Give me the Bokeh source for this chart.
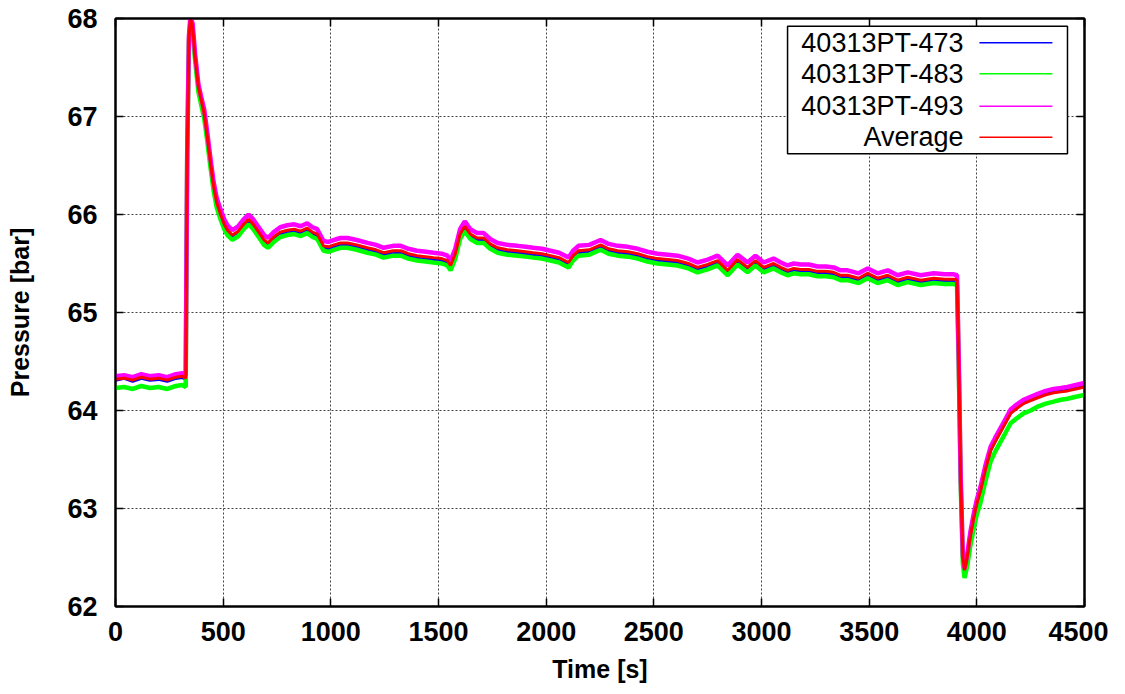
from bokeh.plotting import figure
from bokeh.models import Range1d, LinearAxis, SingleIntervalTicker, Label, BoxAnnotation, CustomJSTickFormatter
from bokeh.embed import file_html
from bokeh.resources import INLINE

# ---------------- data ----------------
time_s = [0, 40, 80, 120, 160, 200, 240, 280, 310, 326,
          333, 341, 348, 358, 370, 385, 400, 412, 426, 440,
          455, 470, 488, 505, 520, 543, 570, 595, 618, 640,
          665, 690, 708, 735, 765, 798, 830, 860, 890, 915,
          937, 966, 990, 1015, 1045, 1077, 1120, 1170, 1210, 1245,
          1290, 1325, 1360, 1400, 1440, 1477, 1515, 1541, 1556, 1578,
          1600, 1622, 1648, 1680, 1710, 1740, 1775, 1820, 1867, 1905,
          1940, 1980, 2020, 2060, 2104, 2125, 2150, 2200, 2253, 2290,
          2332, 2380, 2425, 2470, 2517, 2565, 2610, 2660, 2703, 2750,
          2796, 2843, 2889, 2935, 2972, 3010, 3056, 3090, 3121, 3150,
          3181, 3220, 3260, 3300, 3335, 3367, 3400, 3451, 3493, 3539,
          3586, 3632, 3679, 3739, 3800, 3850, 3893, 3908, 3916, 3925,
          3935, 3943, 3955, 3970, 3986, 4000, 4017, 4040, 4064, 4085,
          4110, 4135, 4157, 4185, 4217, 4250, 4283, 4320, 4357, 4390,
          4421, 4460, 4500]

pt_473 = [64.31, 64.33, 64.30, 64.33, 64.31, 64.32, 64.30, 64.33, 64.34, 64.32,
          66.60, 67.79, 67.99, 67.91, 67.59, 67.29, 67.14, 67.02, 66.79, 66.54,
          66.29, 66.11, 65.99, 65.89, 65.82, 65.77, 65.81, 65.88, 65.93, 65.88,
          65.80, 65.72, 65.69, 65.75, 65.80, 65.82, 65.83, 65.81, 65.84, 65.80,
          65.78, 65.66, 65.65, 65.67, 65.69, 65.69, 65.67, 65.64, 65.62, 65.59,
          65.61, 65.61, 65.58, 65.56, 65.55, 65.54, 65.53, 65.51, 65.46, 65.58,
          65.78, 65.86, 65.78, 65.74, 65.74, 65.68, 65.64, 65.62, 65.61, 65.60,
          65.59, 65.58, 65.56, 65.54, 65.49, 65.56, 65.61, 65.62, 65.67, 65.63,
          65.61, 65.60, 65.58, 65.55, 65.53, 65.52, 65.51, 65.48, 65.44, 65.47,
          65.51, 65.41, 65.52, 65.44, 65.51, 65.44, 65.48, 65.44, 65.41, 65.43,
          65.42, 65.42, 65.40, 65.40, 65.39, 65.36, 65.36, 65.33, 65.38, 65.33,
          65.36, 65.31, 65.34, 65.31, 65.33, 65.32, 65.32, 65.31, 64.49, 63.29,
          62.48, 62.35, 62.49, 62.71, 62.90, 63.04, 63.18, 63.40, 63.60, 63.69,
          63.79, 63.89, 63.98, 64.03, 64.08, 64.11, 64.14, 64.17, 64.19, 64.20,
          64.21, 64.23, 64.25]

pt_483 = [64.23, 64.24, 64.22, 64.25, 64.23, 64.24, 64.22, 64.25, 64.26, 64.24,
          66.58, 67.77, 67.97, 67.88, 67.56, 67.25, 67.10, 66.98, 66.75, 66.50,
          66.25, 66.07, 65.95, 65.85, 65.79, 65.74, 65.78, 65.85, 65.90, 65.85,
          65.77, 65.69, 65.66, 65.72, 65.77, 65.79, 65.80, 65.78, 65.81, 65.77,
          65.75, 65.63, 65.62, 65.64, 65.66, 65.66, 65.64, 65.61, 65.59, 65.56,
          65.58, 65.58, 65.55, 65.53, 65.52, 65.51, 65.50, 65.48, 65.43, 65.55,
          65.75, 65.83, 65.75, 65.71, 65.71, 65.65, 65.61, 65.59, 65.58, 65.57,
          65.56, 65.55, 65.53, 65.51, 65.46, 65.53, 65.58, 65.59, 65.64, 65.60,
          65.58, 65.57, 65.55, 65.52, 65.50, 65.49, 65.48, 65.45, 65.41, 65.44,
          65.48, 65.38, 65.49, 65.41, 65.48, 65.41, 65.45, 65.41, 65.38, 65.40,
          65.39, 65.39, 65.37, 65.37, 65.36, 65.33, 65.33, 65.30, 65.35, 65.30,
          65.33, 65.28, 65.31, 65.28, 65.30, 65.29, 65.29, 65.28, 64.46, 63.26,
          62.44, 62.29, 62.41, 62.62, 62.80, 62.94, 63.06, 63.28, 63.48, 63.58,
          63.68, 63.78, 63.87, 63.92, 63.97, 64.00, 64.04, 64.07, 64.09, 64.11,
          64.12, 64.14, 64.16]

pt_493 = [64.35, 64.36, 64.34, 64.37, 64.35, 64.36, 64.34, 64.37, 64.38, 64.36,
          66.62, 67.82, 68.02, 67.95, 67.63, 67.33, 67.18, 67.07, 66.84, 66.59,
          66.34, 66.17, 66.05, 65.95, 65.89, 65.84, 65.88, 65.95, 66.00, 65.95,
          65.87, 65.79, 65.76, 65.82, 65.87, 65.89, 65.90, 65.88, 65.91, 65.87,
          65.85, 65.73, 65.72, 65.74, 65.76, 65.76, 65.74, 65.71, 65.69, 65.66,
          65.68, 65.68, 65.65, 65.63, 65.62, 65.61, 65.60, 65.58, 65.53, 65.65,
          65.85, 65.93, 65.85, 65.81, 65.81, 65.75, 65.71, 65.69, 65.68, 65.67,
          65.66, 65.65, 65.63, 65.61, 65.56, 65.63, 65.68, 65.69, 65.74, 65.70,
          65.68, 65.67, 65.65, 65.62, 65.60, 65.59, 65.58, 65.55, 65.51, 65.54,
          65.58, 65.48, 65.59, 65.51, 65.58, 65.51, 65.55, 65.51, 65.48, 65.50,
          65.49, 65.49, 65.47, 65.47, 65.46, 65.43, 65.43, 65.40, 65.45, 65.40,
          65.43, 65.38, 65.41, 65.38, 65.40, 65.39, 65.39, 65.38, 64.52, 63.32,
          62.52, 62.39, 62.53, 62.76, 62.95, 63.09, 63.22, 63.44, 63.63, 63.72,
          63.82, 63.92, 64.01, 64.06, 64.11, 64.14, 64.17, 64.20, 64.22, 64.23,
          64.24, 64.26, 64.28]

average = [64.32, 64.33, 64.31, 64.34, 64.32, 64.33, 64.31, 64.34, 64.35, 64.33,
           66.60, 67.80, 68.00, 67.92, 67.60, 67.30, 67.15, 67.03, 66.80, 66.55,
           66.30, 66.12, 66.00, 65.90, 65.84, 65.79, 65.83, 65.90, 65.95, 65.90,
           65.82, 65.74, 65.71, 65.77, 65.82, 65.84, 65.85, 65.83, 65.86, 65.82,
           65.80, 65.68, 65.67, 65.69, 65.71, 65.71, 65.69, 65.66, 65.64, 65.61,
           65.63, 65.63, 65.60, 65.58, 65.57, 65.56, 65.55, 65.53, 65.48, 65.60,
           65.80, 65.88, 65.80, 65.76, 65.76, 65.70, 65.66, 65.64, 65.63, 65.62,
           65.61, 65.60, 65.58, 65.56, 65.51, 65.58, 65.63, 65.64, 65.69, 65.65,
           65.63, 65.62, 65.60, 65.57, 65.55, 65.54, 65.53, 65.50, 65.46, 65.49,
           65.53, 65.43, 65.54, 65.46, 65.53, 65.46, 65.50, 65.46, 65.43, 65.45,
           65.44, 65.44, 65.42, 65.42, 65.41, 65.38, 65.38, 65.35, 65.40, 65.35,
           65.38, 65.33, 65.36, 65.33, 65.35, 65.34, 65.34, 65.33, 64.50, 63.30,
           62.50, 62.37, 62.50, 62.72, 62.91, 63.05, 63.18, 63.40, 63.59, 63.68,
           63.78, 63.88, 63.97, 64.02, 64.07, 64.10, 64.13, 64.16, 64.18, 64.19,
           64.20, 64.22, 64.24]

series_names = ["40313PT-473", "40313PT-483", "40313PT-493", "Average"]
series_colors = ["#0000ff", "#00ff00", "#ff00ff", "#ff0000"]
x_ticks_step = 500
y_ticks_step = 1

# ---------------- figure ----------------
FONT = "Liberation Sans"
p = figure(width=1108, height=690,
           x_range=Range1d(0, 4500), y_range=Range1d(62, 68),
           output_backend="svg", toolbar_location=None,
           min_border_left=115, min_border_right=24,
           min_border_top=18, min_border_bottom=84)
p.background_fill_color = "white"
p.border_fill_color = "white"
p.outline_line_color = "black"
p.outline_line_width = 2

xt = SingleIntervalTicker(interval=x_ticks_step, num_minor_ticks=0)
yt = SingleIntervalTicker(interval=y_ticks_step, num_minor_ticks=0)

for ax, tk in ((p.xaxis[0], xt), (p.yaxis[0], yt)):
    ax.ticker = tk
    ax.major_tick_in = 8
    ax.major_tick_out = 0
    ax.minor_tick_in = 0
    ax.minor_tick_out = 0
    ax.axis_line_color = "black"
    ax.axis_line_width = 2
    ax.major_tick_line_width = 1.5
    ax.major_label_text_font = FONT
    ax.major_label_text_font_style = "bold"
    ax.major_label_text_font_size = "27px"
    ax.major_label_text_color = "black"
    ax.axis_label_text_font = FONT
    ax.axis_label_text_font_style = "bold"
    ax.axis_label_text_font_size = "25px"
    ax.axis_label_text_color = "black"

p.xaxis[0].axis_label = "Time [s]"
p.yaxis[0].axis_label = "Pressure [bar]"
p.xaxis[0].major_label_standoff = 15
p.xaxis[0].axis_label_standoff = 11
p.yaxis[0].major_label_standoff = 18
p.yaxis[0].axis_label_standoff = 30

# mirrored tick marks on top and right
blank = CustomJSTickFormatter(code="return '';")
top_ax = LinearAxis(ticker=xt, formatter=blank, major_tick_in=8, major_tick_out=0,
                    minor_tick_in=0, minor_tick_out=0, axis_line_width=2,
                    major_tick_line_width=1.5, major_label_text_font_size="1px",
                    major_label_standoff=0)
right_ax = LinearAxis(ticker=yt, formatter=blank, major_tick_in=8, major_tick_out=0,
                      minor_tick_in=0, minor_tick_out=0, axis_line_width=2,
                      major_tick_line_width=1.5, major_label_text_font_size="1px",
                      major_label_standoff=0)
p.add_layout(top_ax, "above")
p.add_layout(right_ax, "right")

p.xgrid.ticker = xt
p.ygrid.ticker = yt
for g in (p.xgrid[0], p.ygrid[0]):
    g.grid_line_color = "#444444"
    g.grid_line_dash = "2 2"
    g.grid_line_width = 1

# ---------------- lines (drawn in gnuplot order) ----------------
data = [pt_473, pt_483, pt_493, average]
widths = [3.5, 4.5, 4.5, 3]
for vals, col, w in zip(data, series_colors, widths):
    p.line(time_s, vals, line_color=col, line_width=w)

# ---------------- legend box (gnuplot style: text then sample) ----------------
leg_left, leg_right, leg_top, leg_bottom = 3121, 4421, 67.92, 66.62
p.add_layout(BoxAnnotation(left=leg_left, right=leg_right, top=leg_top, bottom=leg_bottom,
                           fill_color="white", fill_alpha=1.0,
                           line_color="black", line_alpha=1.0, line_width=1.5))
row_y = [67.752, 67.436, 67.105, 66.789]
for name, col, yy in zip(series_names, series_colors, row_y):
    p.add_layout(Label(x=3938, y=yy, text=name, text_align="right", text_baseline="middle",
                       text_font=FONT, text_font_size="27px", text_color="black"))
    p.add_layout(BoxAnnotation(left=4012, right=4351, top=yy, bottom=yy,
                               fill_alpha=0, line_color=col, line_alpha=1.0, line_width=1.5))

open("out.html", "w").write(file_html(p, INLINE))
